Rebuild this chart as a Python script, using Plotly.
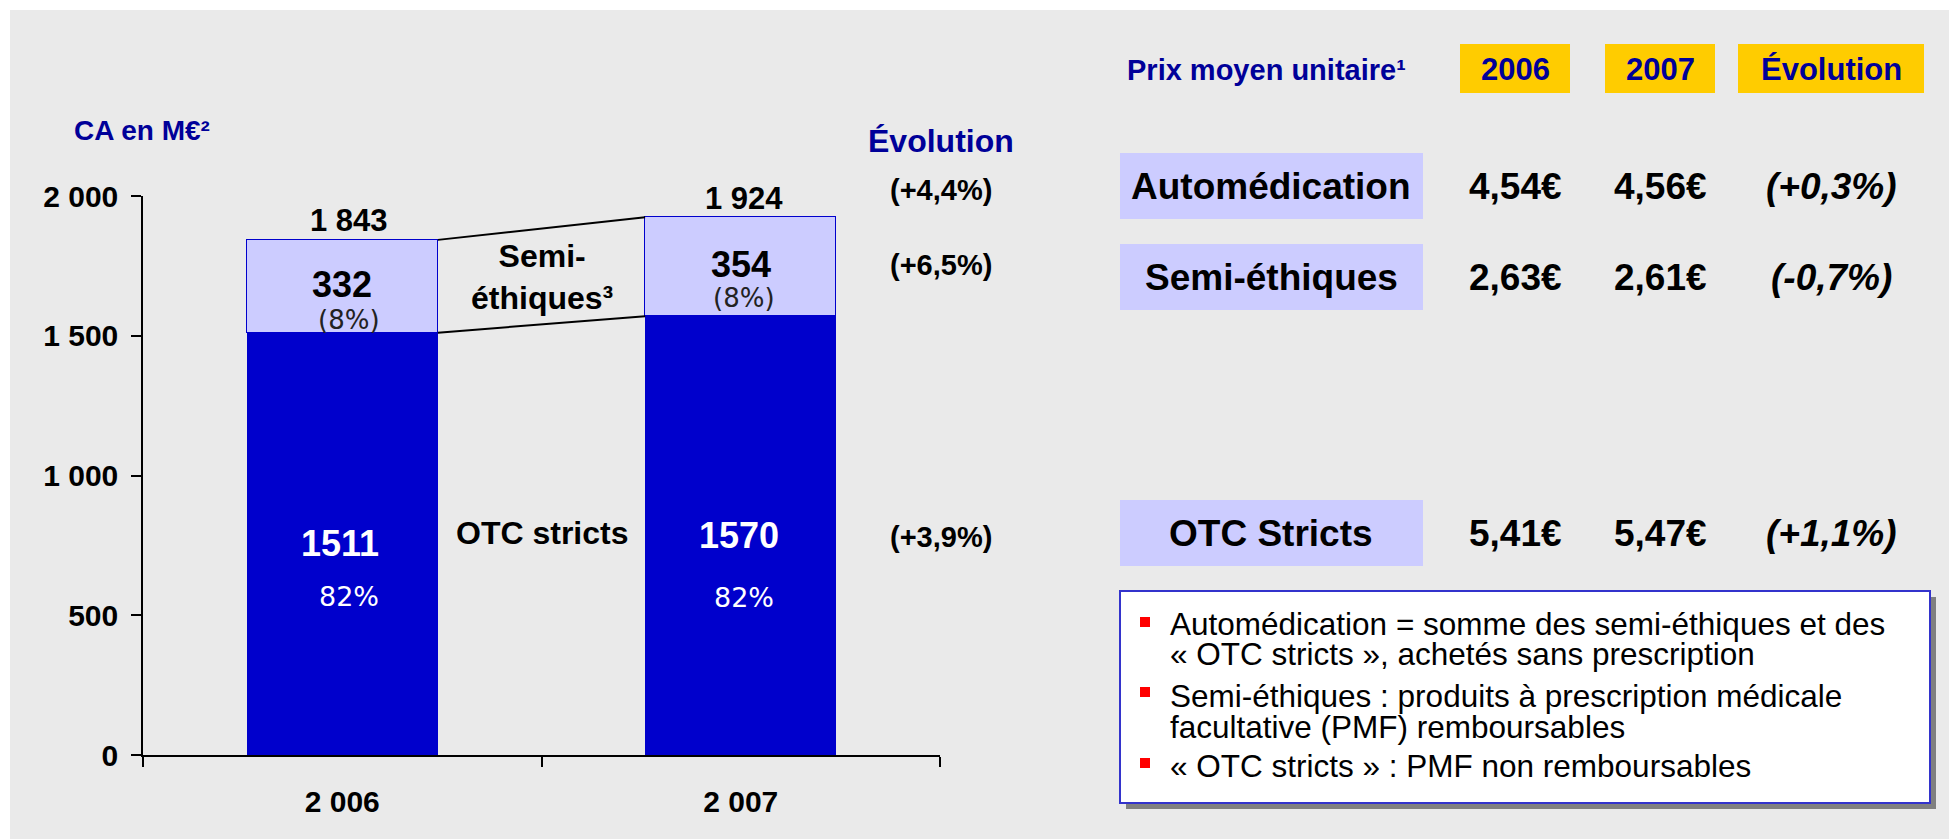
import plotly.graph_objects as go

# --- data -------------------------------------------------------------
years = ["2 006", "2 007"]
otc_stricts = [1511, 1570]
semi_ethiques = [332, 354]
otc_share = ["82%", "82%"]
semi_share = ["(8%)", "(8%)"]
evolution = ["(+4,4%)", "(+6,5%)", "(+3,9%)"]

y_ticks = [0, 500, 1000, 1500, 2000]
y_tick_labels = ["0", "500", "1 000", "1 500", "2 000"]

price_headers = ["2006", "2007", "Évolution"]
price_rows = ["Automédication", "Semi-éthiques", "OTC Stricts"]
price_2006 = ["4,54€", "2,63€", "5,41€"]
price_2007 = ["4,56€", "2,61€", "5,47€"]
price_evol = ["(+0,3%)", "(-0,7%)", "(+1,1%)"]

notes = [
  ["Automédication = somme des semi-éthiques et des", "« OTC stricts », achetés sans prescription"],
  ["Semi-éthiques : produits à prescription médicale", "facultative (PMF) remboursables"],
  ["« OTC stricts » : PMF non remboursables"],
]

# --- style ------------------------------------------------------------
# the page body keeps an 8px margin, so the figure is drawn 8px smaller
# and all page-pixel positions below are shifted by that offset
W, H = 1957, 839
OFF = 8
FW, FH = W - OFF, H - OFF
FONT = "Liberation Sans, Arial, sans-serif"
FONT_LIGHT = "DejaVu Sans, Verdana, sans-serif"
DARK = "#0000CC"
LIGHT = "#CCCCFF"
NAVY = "#000099"
YELLOW = "#FFCC00"
GRAY_BG = "#EAEAEA"
BAR_W = 0.48

def fx(px):
  return (px - OFF) / FW

def fy(py):
  return 1 - (py - OFF) / FH

x_pos = list(range(len(years)))
totals = [a + b for a, b in zip(otc_stricts, semi_ethiques)]
total_labels = [f"{t:,}".replace(",", " ") for t in totals]

fig = go.Figure()
fig.add_trace(go.Bar(
  x=x_pos, y=otc_stricts, width=BAR_W, name="OTC stricts",
  marker=dict(color=DARK, line=dict(width=0)), hoverinfo="skip"))
fig.add_trace(go.Bar(
  x=x_pos, y=semi_ethiques, width=BAR_W, name="Semi-éthiques",
  marker=dict(color=LIGHT, line=dict(color=DARK, width=1.5)), hoverinfo="skip"))

# connectors between the two bars
edge_x = [x_pos[0] + BAR_W / 2, x_pos[1] - BAR_W / 2]
for ys in (totals, otc_stricts):
  fig.add_trace(go.Scatter(x=edge_x, y=ys, mode="lines",
    line=dict(color="black", width=2), hoverinfo="skip"))

ann = []
def note(text, x, y, size, color="black", bold=True, family=FONT, xanchor="center",
         xref="paper", yref="paper", xshift=0, yshift=0, italic=False):
  if bold:
    text = f"<b>{text}</b>"
  if italic:
    text = f"<i>{text}</i>"
  ann.append(dict(text=text, x=x, y=y, xref=xref, yref=yref, showarrow=False,
    xanchor=xanchor, yanchor="middle", xshift=xshift, yshift=yshift,
    font=dict(size=size, color=color, family=family)))

# bar labels
shift_x = [7, 3]
for i in x_pos:
  note(total_labels[i], i, totals[i], 31, xref="x", yref="y", xshift=shift_x[i], yshift=19)
  mid = otc_stricts[i] + semi_ethiques[i] / 2
  note(str(semi_ethiques[i]), i, mid, 36, xref="x", yref="y", yshift=2)
  note(semi_share[i], i, mid, 26, color="#222222", bold=False, family=FONT_LIGHT,
       xref="x", yref="y", xshift=shift_x[i], yshift=[-34, -31][i])
  note(str(otc_stricts[i]), i, otc_stricts[i] / 2, 36, color="white", xref="x", yref="y", xshift=-2)
  note(otc_share[i], i, otc_stricts[i] / 2, 27, color="white", bold=False, family=FONT_LIGHT,
       xref="x", yref="y", xshift=shift_x[i], yshift=[-53, -62][i])

band_mid = (sum(totals) + sum(otc_stricts)) / 4
note("Semi-<br>éthiques³", 0.5, band_mid, 32, xref="x", yref="y")
note("OTC stricts", 0.5, sum(otc_stricts) / 4, 32, xref="x", yref="y", yshift=7)

note("CA en M€²", fx(142), fy(130), 28, color=NAVY)
note("Évolution", fx(941), fy(141), 32, color=NAVY)
for txt, py in zip(evolution, [190, 265, 537]):
  note(txt, fx(941), fy(py), 29)

# background and price table
shapes = [dict(type="rect", xref="paper", yref="paper", x0=fx(10), x1=1, y0=0, y1=fy(10),
               fillcolor=GRAY_BG, line=dict(width=0), layer="below")]
note("Prix moyen unitaire¹", fx(1266), fy(70), 29, color=NAVY)
col_x = [1515, 1660, 1831]
col_w = [110, 110, 186]
for txt, cx, w in zip(price_headers, col_x, col_w):
  shapes.append(dict(type="rect", xref="paper", yref="paper", x0=fx(cx - w / 2), x1=fx(cx + w / 2),
                     y0=fy(93), y1=fy(44), fillcolor=YELLOW, line=dict(width=0), layer="below"))
  note(txt, fx(cx), fy(69), 31, color=NAVY)

row_y = [186, 277, 533]
for r, py in enumerate(row_y):
  shapes.append(dict(type="rect", xref="paper", yref="paper", x0=fx(1120), x1=fx(1423),
                     y0=fy(py + 33), y1=fy(py - 33), fillcolor=LIGHT, line=dict(width=0), layer="below"))
  note(price_rows[r], fx(1271), fy(py), 37)
  note(price_2006[r], fx(col_x[0]), fy(py), 37)
  note(price_2007[r], fx(col_x[1]), fy(py), 37)
  note(price_evol[r], fx(col_x[2]), fy(py), 37, italic=True)

# notes box with shadow
shapes.append(dict(type="rect", xref="paper", yref="paper", x0=fx(1126), x1=fx(1936),
                   y0=fy(809), y1=fy(597), fillcolor="#808080", line=dict(width=0)))
shapes.append(dict(type="rect", xref="paper", yref="paper", x0=fx(1120), x1=fx(1930),
                   y0=fy(803), y1=fy(591), fillcolor="white", line=dict(color="#3333CC", width=2)))
line_y = [[624, 654], [696, 727], [766]]
bullet_y = [622, 692, 763]
for lines, ys, by in zip(notes, line_y, bullet_y):
  shapes.append(dict(type="rect", xref="paper", yref="paper", x0=fx(1140), x1=fx(1150),
                     y0=fy(by + 5), y1=fy(by - 5), fillcolor="#FF0000", line=dict(width=0)))
  for txt, py in zip(lines, ys):
    note(txt, fx(1168), fy(py), 31.5, bold=False, xanchor="left")

fig.update_layout(
  width=FW, height=FH,
  margin=dict(l=0, r=0, t=0, b=0),
  paper_bgcolor="white",
  plot_bgcolor="rgba(0,0,0,0)",
  barmode="stack",
  bargap=0,
  showlegend=False,
  font=dict(family=FONT, color="black"),
  annotations=ann,
  shapes=shapes,
  xaxis=dict(
    domain=[fx(143), fx(940)], range=[-0.5, 1.5], automargin=False,
    tickvals=x_pos, ticktext=years, ticks="",
    tickfont=dict(size=30, weight="bold", color="black"), ticklabelstandoff=19,
    showline=True, linecolor="black", linewidth=1.5,
    showgrid=False, zeroline=False, fixedrange=True,
    minor=dict(tickvals=[-0.5, 0.5, 1.5], ticks="outside", ticklen=10,
               tickcolor="black", tickwidth=1.5, showgrid=False),
  ),
  yaxis=dict(
    domain=[fy(755), fy(196)], range=[0, 2000], automargin=False,
    tickvals=y_ticks, ticktext=y_tick_labels,
    ticks="outside", ticklen=10, tickwidth=1.5, tickcolor="black",
    tickfont=dict(size=30, weight="bold", color="black"), ticklabelstandoff=7,
    showline=True, linecolor="black", linewidth=1.5,
    showgrid=False, zeroline=False, fixedrange=True,
  ),
)

fig.write_html("out.html")
